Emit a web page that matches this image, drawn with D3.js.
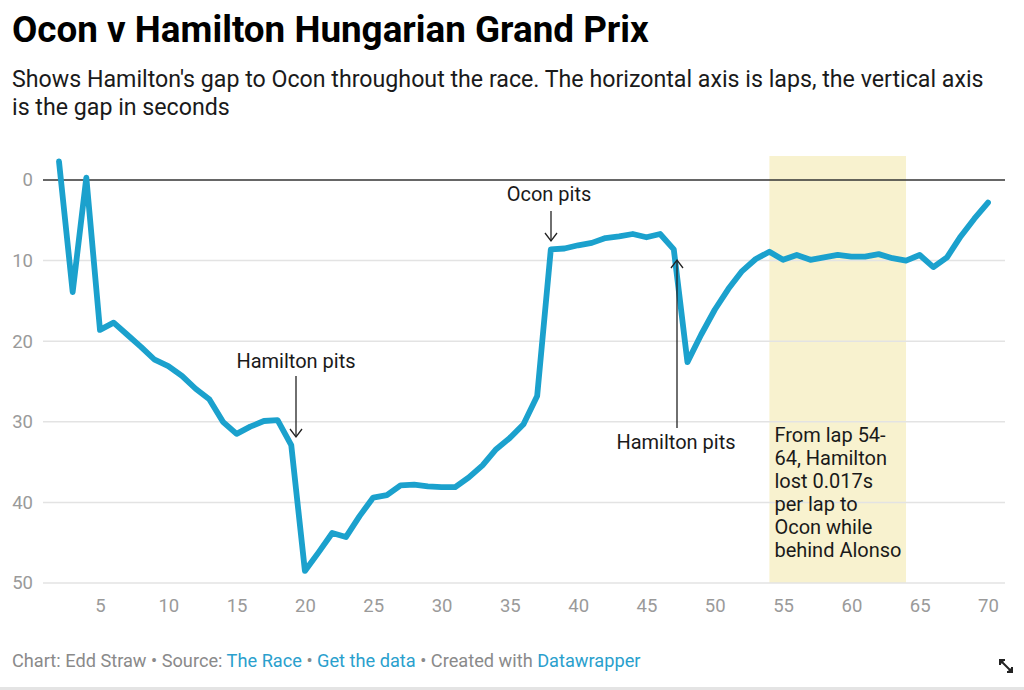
<!DOCTYPE html>
<html>
<head>
<meta charset="utf-8">
<script src="https://cdn.jsdelivr.net/npm/d3@7"></script>
<style>
  html, body { margin: 0; padding: 0; background: #fff; }
  svg { display: block; font-family: Roboto, "Noto Sans", sans-serif; }
</style>
</head>
<body>
<svg id="chart" width="1024" height="690"></svg>
<script>
// ---- data ----
const laps = [2,3,4,5,6,7,8,9,10,11,12,13,14,15,16,17,18,19,20,21,22,23,24,25,26,27,28,29,30,
  31,32,33,34,35,36,37,38,39,40,41,42,43,44,45,46,47,48,49,50,51,52,53,54,55,56,57,58,59,60,
  61,62,63,64,65,66,67,68,69,70];
const gap = [-2.3,13.9,-0.3,18.6,17.7,19.2,20.7,22.3,23.1,24.3,25.9,27.2,30.0,31.5,30.6,29.9,29.8,32.9,
  48.5,46.2,43.8,44.3,41.7,39.4,39.1,37.9,37.8,38.0,38.1,38.1,36.9,35.4,33.4,32.0,30.3,26.8,
  8.6,8.5,8.1,7.8,7.2,7.0,6.7,7.1,6.7,8.6,22.6,19.2,16.1,13.5,11.3,9.8,8.9,9.9,9.3,9.9,9.6,9.3,
  9.5,9.5,9.2,9.7,10.0,9.3,10.8,9.6,7.0,4.8,2.8];
const xTicks = [5,10,15,20,25,30,35,40,45,50,55,60,65,70];
const yTicks = [0,10,20,30,40,50];
const highlightRange = [54,64];
const highlightText = ["From lap 54-","64, Hamilton","lost 0.017s","per lap to","Ocon while","behind Alonso"];
const pitNotes = [
  {lap:19, label:"Hamilton pits", dir:"down"},
  {lap:38, label:"Ocon pits", dir:"down"},
  {lap:47, label:"Hamilton pits", dir:"up"}
];
const title = "Ocon v Hamilton Hungarian Grand Prix";
const subtitle = ["Shows Hamilton's gap to Ocon throughout the race. The horizontal axis is laps, the vertical axis","is the gap in seconds"];

// ---- layout ----
const svg = d3.select("#chart");
const x = d3.scaleLinear().domain([2,70]).range([59,988]);
const y = d3.scaleLinear().domain([0,50]).range([180,583]);
const gridX0 = 43, gridX1 = 1005;
const lineColor = "#1ba1cd";

svg.append("text").attr("x",12).attr("y",42)
  .attr("font-size",36.8).attr("font-weight",700).attr("fill","#000")
  .text(title);
subtitle.forEach((s,i)=>{
  svg.append("text").attr("x",12).attr("y",87+i*28)
    .attr("font-size",23.2).attr("fill","#1a1a1a").text(s);
});

// highlight band
svg.append("rect")
  .attr("x",x(highlightRange[0])).attr("width",x(highlightRange[1])-x(highlightRange[0]))
  .attr("y",156).attr("height",y(50)-156)
  .attr("fill","#f8f2cf");

// gridlines
const gAxisY = svg.append("g");
gAxisY.selectAll("line.grid").data(yTicks.filter(d=>d!==0)).join("line")
  .attr("x1",gridX0).attr("x2",gridX1)
  .attr("y1",d=>y(d)).attr("y2",d=>y(d))
  .attr("stroke","#e3e3e3").attr("stroke-width",1.5);
gAxisY.selectAll("text").data(yTicks).join("text")
  .attr("x",33).attr("y",d=>y(d)).attr("dy","0.35em")
  .attr("text-anchor","end").attr("font-size",18.5).attr("fill","#9a9a9a")
  .text(d=>d);
// zero line
svg.append("line").attr("x1",gridX0).attr("x2",gridX1)
  .attr("y1",y(0)).attr("y2",y(0)).attr("stroke","#333").attr("stroke-width",1.5);

// x axis via d3 axis
const xAxis = d3.axisBottom(x).tickValues(xTicks).tickSize(0).tickPadding(0);
const gx = svg.append("g").attr("transform",`translate(0,${y(50)+16})`).call(xAxis);
gx.select(".domain").remove();
gx.selectAll("text").attr("font-size",18.5).attr("fill","#9a9a9a")
  .attr("font-family","Roboto, sans-serif").attr("dy","0.71em");

// line
const line = d3.line().x((d,i)=>x(laps[i])).y(d=>y(d));
svg.append("path").datum(gap).attr("d",line)
  .attr("fill","none").attr("stroke",lineColor).attr("stroke-width",5.8)
  .attr("stroke-linejoin","round").attr("stroke-linecap","round");

// highlight text
highlightText.forEach((t,i)=>{
  svg.append("text").attr("x",x(highlightRange[0])+5).attr("y",442+i*23)
    .attr("font-size",20).attr("fill","#1a1a1a").text(t);
});

// pit annotations
function arrow(x0,y0,x1,y1){
  svg.append("line").attr("x1",x0).attr("y1",y0).attr("x2",x1).attr("y2",y1)
    .attr("stroke","#222").attr("stroke-width",1.3);
  const s = Math.sign(y1-y0);
  svg.append("path").attr("d",`M${x1-6},${y1-8*s} L${x1},${y1} L${x1+6},${y1-8*s}`)
    .attr("fill","none").attr("stroke","#222").attr("stroke-width",1.3);
}
const annPos = [
  {tx:296, ty:368, ax:296, a0:376, a1:437},
  {tx:549, ty:201, ax:551, a0:211, a1:241},
  {tx:676, ty:449, ax:677, a0:428, a1:260}
];
pitNotes.forEach((n,i)=>{
  const p = annPos[i];
  const dx = p.ax - x(n.lap);
  svg.append("text").attr("x",p.tx).attr("y",p.ty).attr("text-anchor","middle")
    .attr("font-size",20).attr("fill","#1a1a1a").text(n.label);
  arrow(x(n.lap)+dx,p.a0,x(n.lap)+dx,p.a1);
});

// footer
const footer = svg.append("text").attr("x",12).attr("y",667).attr("font-size",18.2).attr("fill","#8a8a8a");
footer.append("tspan").text("Chart: Edd Straw • Source: ");
footer.append("tspan").attr("fill","#2aa0cd").text("The Race");
footer.append("tspan").text(" • ");
footer.append("tspan").attr("fill","#2aa0cd").text("Get the data");
footer.append("tspan").text(" • Created with ");
footer.append("tspan").attr("fill","#2aa0cd").text("Datawrapper");

// resize icon
const ic = svg.append("g").attr("transform","translate(1006,666)")
  .attr("stroke","#222").attr("stroke-width",2).attr("fill","none");
ic.append("line").attr("x1",-5).attr("y1",-5).attr("x2",5).attr("y2",5);
ic.append("path").attr("d","M-6,-1 L-6,-6 L-1,-6").attr("fill","#222");
ic.append("path").attr("d","M6,1 L6,6 L1,6").attr("fill","#222");

// bottom bar
svg.append("rect").attr("x",0).attr("y",687).attr("width",1024).attr("height",3).attr("fill","#e4e4e4");
</script>
</body>
</html>
